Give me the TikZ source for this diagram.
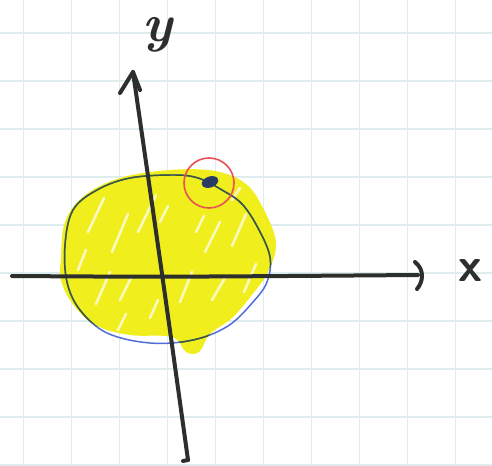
\documentclass[tikz,border=0pt]{standalone}
\usetikzlibrary{calc}
\definecolor{gridc}{RGB}{222,236,238}
\definecolor{hl}{RGB}{240,238,28}
\definecolor{axisc}{RGB}{45,47,45}
\definecolor{bluec}{RGB}{80,108,214}
\definecolor{greenc}{RGB}{60,88,52}
\definecolor{redc}{RGB}{232,82,84}
\definecolor{dotc}{RGB}{40,60,100}
\tikzset{
  gridline/.style={draw=gridc, line width=1.1pt},
  axisline/.style={draw=axisc, line width=3pt, line cap=round, line join=round},
  outline/.style={line width=1.1pt},
  streak/.style={draw=white, line width=2pt, line cap=round, opacity=0.7},
  lbl/.style={text=axisc, inner sep=0pt}
}
\def\blob{plot[smooth cycle, tension=0.6] coordinates {(61,258) (65,222) (84,196) (120,178) (170,170) (215,171) (246,184) (264,210) (276,243) (268,272) (251,296) (232,318) (210,334) (199,352) (186,352) (172,337) (130,335) (95,325) (72,303) (61,280)}}
\def\orbit{plot[smooth cycle, tension=0.6] coordinates {(65,245) (73,210) (97,190) (130,178) (173,175) (198,178) (222,190) (242,204) (258,228) (270,257) (267,282) (253,302) (228,326) (193,340) (150,343) (107,333) (80,310) (67,282)}}
\begin{document}
\begin{tikzpicture}[x=0.75pt, y=-0.75pt]
\useasboundingbox (0,0) rectangle (492,466);
\fill[white] (0,0) rectangle (492,466);
% grid paper
\foreach \gx in {23.5,71.5,...,480} \draw[gridline] (\gx,0) -- (\gx,466);
\foreach \gy in {33,81,...,470} \draw[gridline] (0,\gy) -- (492,\gy);
% highlighter blob
\fill[hl] \blob;
\foreach \a/\b in {{(88,232)}/{(104,198)}, {(112,252)}/{(128,214)}, {(96,304)}/{(110,272)}, {(78,270)}/{(86,250)}, {(138,232)}/{(156,195)}, {(120,300)}/{(132,276)}, {(205,252)}/{(220,222)}, {(232,246)}/{(246,214)}, {(180,302)}/{(192,272)}, {(212,300)}/{(226,276)}, {(118,330)}/{(126,314)}, {(244,292)}/{(256,264)}, {(160,222)}/{(168,206)}, {(232,200)}/{(240,188)}, {(150,318)}/{(158,300)}, {(196,232)}/{(204,216)}}
  \draw[streak] \a -- \b;
% orbit outline: blue, dark green where over the highlighter
\draw[outline, draw=bluec] \orbit;
\begin{scope}
  \clip \blob;
  \draw[outline, draw=greenc] \orbit;
\end{scope}
% marked point
\draw[draw=redc, line width=1.2pt] (209,183) circle [radius=25];
\fill[dotc, rotate around={20:(210,182)}] (210,182) ellipse [x radius=8.5, y radius=5.5];
% axes
\coordinate (xs) at (12,276);
\coordinate (xm) at (163,277);
\coordinate (xe) at (418,275);
\coordinate (ys) at (188,460);
\coordinate (ye) at (133,72);
\draw[axisline] (xs) .. controls (xm) .. (xe);
\draw[axisline] (415,262) .. controls (425,270) and (423,282) .. (417,289);
\draw[axisline] (ys) .. controls (163,280) .. (ye);
\draw[axisline] (183,461) -- (ys);
\draw[axisline] (120,93) -- (ye) -- (140,90);
% labels
\node[lbl, font=\fontsize{36}{36}\selectfont\sffamily\bfseries] (xl) at (470,271) {x};
\node[lbl, font=\fontsize{40}{40}\selectfont\bfseries\itshape] (yl) at (157,35) {y};
\end{tikzpicture}
\end{document}
